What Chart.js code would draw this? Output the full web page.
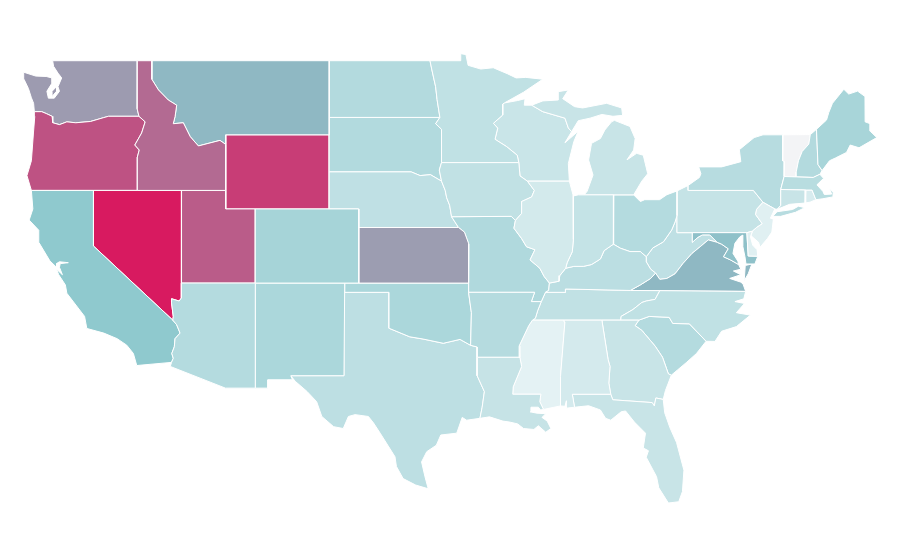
<!DOCTYPE html>
<html>
<head>
<meta charset="utf-8">
<title>United States map</title>
<script src="https://cdn.jsdelivr.net/npm/chart.js@4/dist/chart.umd.min.js"></script>
<style>
  html, body { margin: 0; padding: 0; background: #fff; }
  #chartDiv { width: 900px; height: 560px; }
</style>
</head>
<body>
<div id="chartDiv"><canvas id="chartTag" width="900" height="560"></canvas></div>
<script>
const stateNames = ["Alabama","Arizona","Arkansas","California","Colorado","Connecticut","Delaware","Florida","Georgia","Idaho","Illinois","Indiana","Iowa","Kansas","Kentucky","Louisiana","Maine","Maryland","Massachusetts","Michigan","Minnesota","Mississippi","Missouri","Montana","Nebraska","Nevada","New Hampshire","New Jersey","New Mexico","New York","North Carolina","North Dakota","Ohio","Oklahoma","Oregon","Pennsylvania","Rhode Island","South Carolina","South Dakota","Tennessee","Texas","Utah","Vermont","Virginia","Washington","West Virginia","Wisconsin","Wyoming"];
const stateValues = [13.5,30.4,30,50,37.8,20,7,20,20,77,14,22,23.6,62.4,26.7,21,36.8,52.5,28.3,20,24,5,32.5,55,24.5,100,31,7,35,28.8,24,31,30.4,35,84,21.4,11.4,30.4,31.5,23.6,25.6,81,0,55,63,24.5,19.3,90];

// colour ramp: value stops and their colours
const rampStops = [0, 5, 50, 55, 63, 100];
const rampColors = [[243,244,246],[228,242,244],[143,201,206],[143,184,195],[157,155,176],[216,26,96]];

// shared borders, longitude / latitude
const waOrLine = [[-116.92,46],[-118.98,46],[-119.3,45.93],[-120.2,45.72],[-121.2,45.65],[-121.8,45.7],[-122.3,45.55],[-122.75,45.65],[-122.8,46],[-123.2,46.15],[-123.5,46.25],[-124,46.25]];
const orIdLine = [[-116.92,46],[-116.5,45.7],[-116.74,45.1],[-117.2,44.45],[-116.9,44.18],[-117.03,43.8],[-117.03,42]];
const idMtLine = [[-116.05,49],[-116.05,48],[-115.6,47.42],[-114.94,46.88],[-114.37,46.6],[-114.48,45.98],[-114.6,45.6],[-113.92,45.65],[-113.45,44.9],[-112.9,44.4],[-111.44,44.7],[-111.05,44.48]];
const nvAzLine = [[-114.05,37],[-114.05,36.2],[-114.2,36.03],[-114.7,36.15],[-114.72,35.95],[-114.6,35.2],[-114.63,35]];
const caAzLine = [[-114.63,35],[-114.37,34.75],[-114.14,34.3],[-114.48,34],[-114.53,33.56],[-114.7,33.2],[-114.6,32.94],[-114.72,32.72]];
const neMoLine = [[-96.45,42.5],[-96.2,42],[-96.1,41.6],[-95.9,41.2],[-95.77,40.58]];
const neMoLow = [[-95.77,40.58],[-95.3,40]];
const ksMoLine = [[-95.3,40],[-94.9,39.75],[-94.6,39.1],[-94.62,37]];
const neSdLine = [[-96.45,42.5],[-97.2,42.85],[-97.9,42.8],[-98.5,43],[-104.05,43]];
const sdIaLine = [[-96.45,43.5],[-96.6,43.1],[-96.45,42.5]];
const sdMnLine = [[-96.56,45.94],[-96.85,45.6],[-96.45,45.3],[-96.45,43.5]];
const ndMnLine = [[-97.23,49],[-97.1,48.5],[-96.85,47.6],[-96.75,46.9],[-96.56,45.94]];
const mnWiLine = [[-92.2,46.72],[-92.31,46.66],[-92.31,46.07],[-92.94,45.62],[-92.65,45.36],[-92.83,44.76],[-92.04,44.36],[-91.33,43.9],[-91.22,43.5]];
const iaWiLine = [[-91.22,43.5],[-91.14,42.78],[-90.64,42.5]];
const iaIlLine = [[-90.64,42.5],[-90.17,42],[-90.35,41.65],[-91.03,41.4],[-91.03,40.76],[-91.45,40.38]];
const moIlLine = [[-91.45,40.38],[-91.55,39.96],[-91.03,39.4],[-90.7,38.96],[-90.13,38.8],[-90.46,38.25],[-89.8,37.8],[-89.5,37.35],[-89.15,37]];
const moKyLine = [[-89.15,37],[-89.2,36.6],[-89.42,36.5]];
const moTnLine = [[-89.42,36.5],[-89.7,36]];
const arTnLine = [[-89.7,36],[-89.95,35.5],[-90.1,35.1],[-90.3,35]];
const arMsLine = [[-90.3,35],[-90.55,34.7],[-91.2,33.6],[-91.15,33]];
const laMsLine = [[-91.15,33],[-91.03,32.5],[-91.6,31.4],[-91.63,31],[-89.73,31],[-89.8,30.6],[-89.55,30.18]];
const ohWvLine = [[-80.52,40.64],[-80.65,40.3],[-80.88,39.86],[-81.43,39.23],[-82.15,38.9],[-82.6,38.42]];
const ohKyLine = [[-82.6,38.42],[-83,38.7],[-83.7,38.7],[-84.35,38.88],[-84.82,39.1]];
const inKyLine = [[-84.82,39.1],[-85.45,38.75],[-85.7,38.3],[-86.3,38],[-86.85,37.9],[-87.5,37.9],[-88.05,37.8]];
const ilKyLine = [[-88.05,37.8],[-88.45,37.4],[-88.5,37.1],[-89.15,37]];
const ilInLine = [[-87.53,41.7],[-87.53,39.35],[-87.6,38.7],[-87.95,38.1],[-88.05,37.8]];
const kyTnLine = [[-89.42,36.5],[-88.06,36.5],[-88.07,36.68],[-83.68,36.6]];
const kyVaLine = [[-83.68,36.6],[-83,36.9],[-82.3,37.25],[-81.97,37.54]];
const kyWvLine = [[-81.97,37.54],[-82.3,37.75],[-82.6,38.15],[-82.6,38.42]];
const vaWvLine = [[-81.97,37.54],[-81.68,37.2],[-81.2,37.25],[-80.65,37.5],[-80.1,38.07],[-79.5,38.6],[-78.95,38.96],[-78.4,39.33],[-77.8,39.2]];
const wvMdLine = [[-77.8,39.2],[-78.3,39.6],[-78.8,39.6],[-79.1,39.47],[-79.48,39.2],[-79.48,39.72]];
const vaMdLine = [[-77.8,39.2],[-77.5,39.1],[-77.05,38.85],[-77.37,38.42],[-76.9,38.25],[-76.35,38]];
const paNjLine = [[-75.42,39.8],[-75.13,40],[-74.75,40.2],[-75.2,40.7],[-75.13,40.98],[-74.7,41.36]];
const njNyLine = [[-74.7,41.36],[-73.9,41]];
const nyVtLine = [[-73.35,45],[-73.35,44.3],[-73.4,43.6],[-73.25,43.55],[-73.27,42.75]];
const nyMaCtLine = [[-73.27,42.75],[-73.5,42.05],[-73.49,41.2],[-73.73,40.98]];
const vtNhLine = [[-71.5,45.01],[-71.6,44.5],[-72.05,44.1],[-72.3,43.6],[-72.45,43],[-72.46,42.73]];
const nhMeLine = [[-71.08,45.3],[-70.98,43.4],[-70.7,43.07]];
const alGaLine = [[-85.6,35],[-85.18,32.87],[-85.05,32.5],[-85.13,31.6],[-85,31]];
const gaScLine = [[-83.1,35],[-83.35,34.7],[-82.9,34.45],[-82,33.6],[-81.5,33],[-81.1,32.1],[-80.9,32.03]];
const ncScLine = [[-83.1,35],[-82.4,35.2],[-81.05,35.15],[-80.8,34.82],[-79.68,34.8],[-78.55,33.86]];
const ncTnLine = [[-81.68,36.59],[-82,36.12],[-82.6,36.03],[-82.9,35.95],[-83.5,35.57],[-84.3,35.2],[-84.32,35]];
const gaFlLine = [[-85,31],[-84.86,30.7],[-82.2,30.55],[-82.05,30.37],[-81.95,30.8],[-81.45,30.72]];
const txOkLine = [[-100,36.5],[-100,34.56],[-98.6,34.1],[-97.7,33.98],[-96.33,33.75],[-95.2,33.96],[-94.48,33.64]];
const okArLine = [[-94.62,36.5],[-94.43,35.4],[-94.48,33.64]];
const txArLine = [[-94.48,33.64],[-94.04,33.55],[-94.04,33]];
const txLaLine = [[-94.04,33],[-94.04,32],[-93.55,31.14],[-93.7,30.3],[-93.85,29.7]];
const moArLine = [[-94.62,36.5],[-90.15,36.5],[-90.37,36],[-89.7,36]];

const back = (line) => [...line].reverse();

// one list of rings for each state, same order as stateNames
const outlineAL = [[...alGaLine,[-87.6,31],[-87.45,30.3],[-88,30.25],[-88,30.65],[-88.1,30.35],[-88.4,30.37],[-88.4,31.95],[-88.1,34.9],[-88.15,35]]];
const outlineAZ = [[...nvAzLine,...caAzLine,[-114.8,32.5],[-111.07,31.33],[-109.05,31.33],[-109.05,37]]];
const outlineAR = [[...okArLine,...txArLine,...back(arMsLine),...back(arTnLine),...back(moArLine)]];
const outlineCA = [[[-120,42],[-120,39],...caAzLine,[-117.07,32.55],[-117.3,33.2],[-117.75,33.65],[-118.4,34],[-119.3,34.3],[-120.45,34.55],[-120.6,35.2],[-121.8,36.45],[-121.9,36.9],[-122.35,37.45],[-122.5,37.75],[-122.1,37.45],[-122.3,37.85],[-122.25,38.05],[-121.7,38.1],[-122.3,38.15],[-122.5,38.05],[-122.5,37.85],[-122.95,38.2],[-123.7,39.2],[-123.7,39.85],[-124.35,40.4],[-124.1,41],[-124.2,42]]];
const outlineCO = [[[-109.05,41],[-102.05,41],[-102.05,37],[-109.05,37]]];
const outlineCT = [[[-73.5,42.05],[-71.8,42.02],[-71.85,41.32],[-72.9,41.25],[-73.73,40.98],[-73.49,41.2]]];
const outlineDE = [[[-75.79,39.72],[-75.42,39.8],[-75.55,39.5],[-75.4,39.05],[-75.1,38.8],[-75.05,38.45],[-75.7,38.46]]];
const outlineFL = [[[-87.6,31],...gaFlLine,[-81.35,30],[-81,29.2],[-80.55,28.4],[-80.05,26.9],[-80.15,25.75],[-80.4,25.2],[-81.1,25.13],[-81.75,25.95],[-81.9,26.55],[-82.6,27.6],[-82.45,27.95],[-82.8,28.1],[-82.65,28.9],[-83.4,29.5],[-84,30.1],[-84.3,30.05],[-85,29.6],[-85.35,29.7],[-85.7,30.15],[-86.5,30.38],[-87.45,30.3]]];
const outlineGA = [[...alGaLine,...gaFlLine.slice(1),[-81.3,31.2],[-80.9,32.03],...back(gaScLine)]];
const outlineID = [[[-117.03,49],...idMtLine,[-111.05,42],...back(orIdLine),[-117.04,46.4]]];
const outlineIL = [[[-90.64,42.5],[-87.8,42.5],[-87.55,41.75],...ilInLine,...ilKyLine,...back(moIlLine),...back(iaIlLine)]];
const outlineIN = [[[-87.53,41.7],[-87.2,41.76],[-84.8,41.76],[-84.82,39.1],...inKyLine.slice(1),...back(ilInLine)]];
const outlineIA = [[[-96.45,43.5],[-91.22,43.5],...iaWiLine,...iaIlLine,[-91.73,40.6],[-95.77,40.58],...back(neMoLine),...back(sdIaLine)]];
const outlineKS = [[[-102.05,40],...ksMoLine,[-102.05,37]]];
const outlineKY = [[...ohKyLine,...inKyLine.slice(1),...ilKyLine,...moKyLine,...kyTnLine,...kyVaLine,...kyWvLine]];
const outlineLA = [[...txLaLine,[-93.2,29.78],[-92.3,29.55],[-91.85,29.5],[-91.3,29.4],[-90.9,29.15],[-90.2,29.1],[-89.9,29.3],[-89.4,28.95],[-89.05,29.15],[-89.3,29.55],[-89.65,29.75],[-89.4,29.95],[-90,29.98],[-90.45,30.05],[-90.4,30.3],[-89.9,30.3],[-89.75,30.15],...back(laMsLine)]];
const outlineME = [[...back(nhMeLine),[-70.4,45.8],[-70.25,46.2],[-70,46.7],[-69.23,47.46],[-68.9,47.2],[-68.3,47.36],[-67.8,47.07],[-67.79,45.7],[-67.45,45.6],[-67.45,45.2],[-67,44.85],[-68.2,44.3],[-68.8,44.45],[-69.05,44.05],[-69.8,43.75],[-70.2,43.6]]];
const outlineMD = [[[-79.48,39.72],[-75.79,39.72],[-75.7,38.46],[-75.05,38.45],[-75.25,38.03],[-75.85,38.03],[-75.92,38.42],[-76.06,38.96],[-76.06,39.59],[-76.26,39.5],[-76.6,39.15],[-76.73,38.6],[-76.4,38.18],...back(vaMdLine),...wvMdLine.slice(1,5)]];
const outlineMA = [[[-73.5,42.05],[-73.27,42.75],[-72.46,42.73],[-71.3,42.7],[-70.85,42.87],[-70.6,42.65],[-71.05,42.3],[-70.65,41.95],[-70.55,41.78],[-70.05,41.8],[-70.2,42.07],[-69.95,41.9],[-69.97,41.65],[-70.65,41.55],[-71.12,41.5],[-71.38,42.02],[-71.8,42.02]]];
const outlineMI = [
  [[-86.8,41.76],[-84.8,41.76],[-83.45,41.76],[-82.9,42.5],[-82.5,42.9],[-82.8,43.9],[-83.25,44],[-83.9,43.65],[-83.45,44.18],[-83.35,44.8],[-83.7,45.45],[-84.75,45.78],[-84.95,45.7],[-85.4,45.26],[-85.7,44.8],[-86.3,44.54],[-86.5,43.64],[-86.2,42.83],[-86.6,41.95]],
  [[-90.35,46.6],[-89.6,46.83],[-88.55,46.88],[-88.55,47.33],[-87.87,47.42],[-88.25,46.95],[-87.45,46.52],[-86.9,46.45],[-85.28,46.7],[-84.26,46.45],[-84.2,46.05],[-84.85,46],[-85.6,46.1],[-86.4,45.9],[-87.2,45.76],[-87.65,45.17],[-87.87,45.37],[-88.1,45.9],[-89.6,46.25]]
];
const outlineMN = [[[-97.23,49],[-95.15,49],[-95.15,49.38],[-94.8,49.33],[-94.65,48.75],[-93.8,48.55],[-92.95,48.62],[-92,48.3],[-91.4,48.07],[-90.75,48.1],[-89.6,48],[-90.9,47.3],...mnWiLine,[-96.45,43.5],...back(sdMnLine).slice(1),...back(ndMnLine).slice(1)]];
const outlineMS = [[...arMsLine,...laMsLine.slice(1),[-88.4,30.37],[-88.4,31.95],[-88.1,34.9],[-88.15,35]]];
const outlineMO = [[[-95.77,40.58],[-91.73,40.6],...moIlLine,...moKyLine,...moTnLine,...back(moArLine),[-94.62,37],...back(ksMoLine),...back(neMoLow)]];
const outlineMT = [[[-116.05,49],[-104.05,49],[-104.05,45],[-111.05,45],...back(idMtLine)]];
const outlineNE = [[[-104.05,43],...back(neSdLine),...neMoLine,...neMoLow,[-102.05,40],[-102.05,41],[-104.05,41]]];
const outlineNV = [[[-120,42],[-114.04,42],...nvAzLine,[-120,39]]];
const outlineNH = [[[-71.5,45.01],[-71.08,45.3],...nhMeLine.slice(1),[-70.85,42.87],[-71.3,42.7],...back(vtNhLine)]];
const outlineNJ = [[...paNjLine,...njNyLine,[-74.2,40.5],[-74,40.45],[-74.1,39.75],[-74.4,39.4],[-74.9,38.93],[-75,39.2],[-75.5,39.55]]];
const outlineNM = [[[-109.05,37],[-103,37],[-103.05,32],[-106.65,32],[-106.53,31.78],[-108.2,31.78],[-108.2,31.33],[-109.05,31.33]]];
const outlineNY = [
  [[-79.76,42.27],[-79,42.7],[-78.9,42.9],[-79.05,43.27],[-77.5,43.27],[-76.2,43.55],[-76.3,44.2],[-75.3,44.85],[-74.7,45],...nyVtLine,...nyMaCtLine.slice(1),...back(njNyLine),[-75.35,42],[-79.76,42]],
  [[-74.03,40.6],[-73.75,40.85],[-72.7,40.97],[-72.3,41.15],[-71.87,41.07],[-72.5,40.82],[-73.5,40.6]]
];
const outlineNC = [[[-81.68,36.59],[-75.87,36.55],[-76,36.15],[-76.6,36],[-75.95,35.9],[-76.5,35.4],[-75.55,35.27],[-76.5,34.65],[-77.5,34.4],[-77.95,33.85],...back(ncScLine),...back(ncTnLine)]];
const outlineND = [[[-104.05,49],...ndMnLine,[-104.05,45.94]]];
const outlineOH = [[[-84.8,41.76],[-83.45,41.76],[-83,41.4],[-82.7,41.5],[-81.7,41.5],[-81.2,41.77],[-80.52,41.97],...ohWvLine,...ohKyLine.slice(1)]];
const outlineOK = [[[-103,37],[-94.62,37],...okArLine,...back(txOkLine),[-103,36.5]]];
const outlineOR = [[...back(waOrLine),...orIdLine.slice(1),[-124.2,42],[-124.5,42.8],[-124.2,43.6],[-124.06,45.1],[-123.97,46]]];
const outlinePA = [[[-80.52,41.97],[-79.76,42.27],[-79.76,42],[-75.35,42],...back(paNjLine),[-75.79,39.72],[-80.52,39.72]]];
const outlineRI = [[[-71.8,42.02],[-71.38,42.02],[-71.12,41.5],[-71.5,41.37],[-71.85,41.32]]];
const outlineSC = [[...ncScLine,[-79.2,33.2],[-79.9,32.7],[-80.5,32.3],...back(gaScLine)]];
const outlineSD = [[[-104.05,45.94],...sdMnLine,...sdIaLine,...neSdLine]];
const outlineTN = [[...kyTnLine,[-81.68,36.59],...ncTnLine.slice(1),...back(arTnLine),...back(moTnLine)]];
const outlineTX = [[[-103.05,36.5],...txOkLine,...txArLine.slice(1),...txLaLine.slice(1),[-94.75,29.6],[-95.05,29.75],[-95.42,28.9],[-96.5,28.8],[-96.8,28.25],[-97.45,27.9],[-97.8,27.35],[-97.57,26.55],[-97.35,25.9],[-98.2,26.1],[-99.05,26.45],[-99.5,27.1],[-99.6,27.63],[-100.6,28.9],[-101.05,29.45],[-101.4,29.8],[-102.3,29.9],[-102.75,29.8],[-103.1,29.15],[-103.75,29.25],[-104.55,29.8],[-104.9,30.6],[-105.55,31.15],[-106.35,31.7],[-106.65,32],[-103.05,32]]];
const outlineUT = [[[-114.04,42],[-111.05,42],[-111.05,41],[-109.05,41],[-109.05,37],[-114.05,37]]];
const outlineVT = [[[-73.35,45],...vtNhLine,...back(nyVtLine)]];
const outlineVA = [
  [...kyVaLine,...vaWvLine,...vaMdLine.slice(1),[-76.2,37.75],[-76.7,37.65],[-76.2,37.45],[-76.95,37.25],[-76.2,37.05],[-76.05,36.95],[-75.87,36.55]],
  [[-75.97,37.13],[-75.9,37.95],[-75.45,38.03],[-75.7,37.5]]
];
const outlineWA = [
  [[-122.76,49],[-117.03,49],[-117.04,46.4],...waOrLine,[-124.05,46.7],[-124.2,47],[-124.4,47.5],[-124.7,48],[-124.72,48.38],[-123.9,48.17],[-123.2,48.15],[-122.8,48.07],[-122.8,47.8],[-123.15,47.35],[-123.05,46.98],[-122.65,46.98],[-122.3,47.35],[-122.4,47.6],[-122.15,48.07],[-122.4,48.33],[-122.7,48.7]],
  [[-122.8,47.35],[-122.5,47.6],[-122.5,47.35],[-122.8,47.07]]
];
const outlineWV = [[...ohWvLine,...back(kyWvLine),...vaWvLine.slice(1),...wvMdLine.slice(1),[-80.52,39.72]]];
const outlineWI = [[[-92.2,46.72],[-91.3,46.85],[-90.8,46.95],[-90.85,46.6],[-90.35,46.6],[-89.6,46.25],[-88.1,45.9],[-87.87,45.37],[-87.65,45.17],[-88.1,44.57],[-87.2,45.2],[-87.5,44.63],[-87.87,43.45],[-87.8,42.5],[-90.64,42.5],...back(iaWiLine),...back(mnWiLine)]];
const outlineWY = [[[-111.05,45],[-104.05,45],[-104.05,41],[-111.05,41]]];

const stateOutlines = [outlineAL,outlineAZ,outlineAR,outlineCA,outlineCO,outlineCT,outlineDE,outlineFL,outlineGA,outlineID,outlineIL,outlineIN,outlineIA,outlineKS,outlineKY,outlineLA,outlineME,outlineMD,outlineMA,outlineMI,outlineMN,outlineMS,outlineMO,outlineMT,outlineNE,outlineNV,outlineNH,outlineNJ,outlineNM,outlineNY,outlineNC,outlineND,outlineOH,outlineOK,outlineOR,outlinePA,outlineRI,outlineSC,outlineSD,outlineTN,outlineTX,outlineUT,outlineVT,outlineVA,outlineWA,outlineWV,outlineWI,outlineWY];

// value to colour
function shade(value) {
  let i = 0;
  while (i < rampStops.length - 2 && value > rampStops[i + 1]) i++;
  const t = (value - rampStops[i]) / (rampStops[i + 1] - rampStops[i]);
  const c = rampColors[i].map((v, k) => Math.round(v + (rampColors[i + 1][k] - v) * t));
  return `rgb(${c[0]}, ${c[1]}, ${c[2]})`;
}

// every ring becomes one closed scatter line
const datasets = [];
stateNames.forEach((name, index) => {
  stateOutlines[index].forEach((ring) => {
    datasets.push({
      label: name,
      data: [...ring, ring[0]].map((p) => ({ x: p[0], y: p[1] })),
      showLine: true,
      fill: "shape",
      backgroundColor: shade(stateValues[index]),
      borderColor: "#fff",
      borderWidth: 1,
      borderJoinStyle: "round",
      pointRadius: 0,
      pointHoverRadius: 0,
    });
  });
});

new Chart(document.getElementById("chartTag"), {
  type: "scatter",
  data: { datasets: datasets },
  options: {
    responsive: false,
    animation: false,
    events: [],
    layout: { padding: 0 },
    plugins: { legend: { display: false }, tooltip: { enabled: false } },
    scales: {
      x: { type: "linear", display: false, min: -126.323, max: -65.43 },
      y: { type: "linear", display: false, min: 22.055, max: 52.276 },
    },
  },
});
</script>
</body>
</html>
